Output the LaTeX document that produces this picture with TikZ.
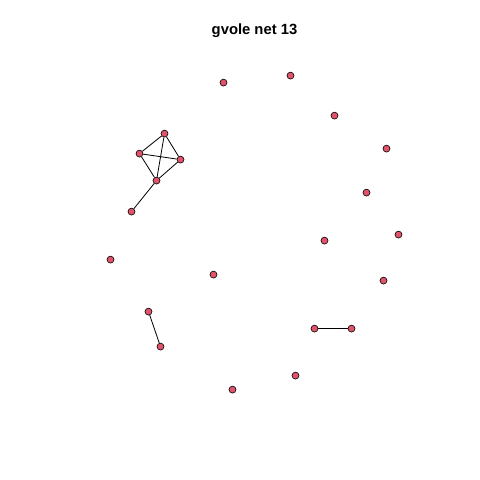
\documentclass[tikz,border=0pt]{standalone}
\usepackage{fontspec}
\setmainfont{Liberation Sans}
\definecolor{vfill}{HTML}{DF536B}
\begin{document}
\begin{tikzpicture}[x=1pt,y=-1pt,
  vert/.style={circle,draw=black,line width=0.6pt,fill=vfill,inner sep=0pt,minimum size=7pt},
  edge/.style={draw=black,line width=0.8pt}]
\useasboundingbox (0,0) rectangle (480,480);
\node[font=\bfseries\fontsize{14.8}{16}\selectfont,anchor=base] (title) at (254.5,34.8) {gvole net 13};
\begin{scope}[shift={(0.5,0.6)}]
\node[vert] (a) at (164,133) {};
\node[vert] (b) at (139,153) {};
\node[vert] (c) at (180,159) {};
\node[vert] (d) at (156,180) {};
\node[vert] (e) at (131,211) {};
\node[vert] (f) at (223,82) {};
\node[vert] (g) at (290,75) {};
\node[vert] (h) at (334,115) {};
\node[vert] (i) at (386,148) {};
\node[vert] (j) at (366,192) {};
\node[vert] (k) at (398,234) {};
\node[vert] (l) at (324,240) {};
\node[vert] (m) at (110,259) {};
\node[vert] (n) at (213,274) {};
\node[vert] (o) at (383,280) {};
\node[vert] (p) at (148,311) {};
\node[vert] (q) at (160,346) {};
\node[vert] (r) at (314,328) {};
\node[vert] (s) at (351,328) {};
\node[vert] (t) at (295,375) {};
\node[vert] (u) at (232,389) {};
\end{scope}
\draw[edge] (a) -- (b);
\draw[edge] (a) -- (c);
\draw[edge] (a) -- (d);
\draw[edge] (b) -- (c);
\draw[edge] (b) -- (d);
\draw[edge] (c) -- (d);
\draw[edge] (d) -- (e);
\draw[edge] (p) -- (q);
\draw[edge] (r) -- (s);
\end{tikzpicture}
\end{document}
